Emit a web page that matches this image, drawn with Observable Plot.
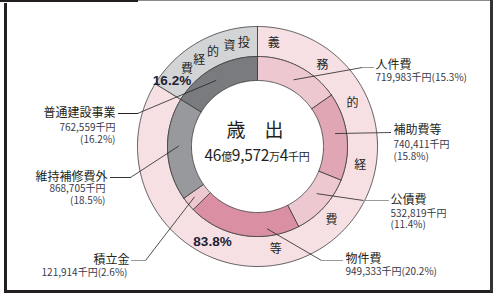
<!DOCTYPE html>
<html><head><meta charset="utf-8">
<script src="https://cdn.jsdelivr.net/npm/d3@7"></script>
<script src="https://cdn.jsdelivr.net/npm/@observablehq/plot@0.6"></script>
<style>
body{margin:0;background:#fff;}
#wrap{position:relative;width:500px;height:298px;overflow:hidden;background:#fff;}
#wrap svg{position:absolute;left:0;top:0;}
.fr{position:absolute;pointer-events:none;background:#231f20;}
</style></head><body><div id="wrap">
<div class="fr" style="left:0;top:0;width:138px;height:2px"></div>
<div class="fr" style="left:138px;top:0;width:355px;height:1px;background:#8a8a8a"></div>
<div class="fr" style="left:4px;top:3px;width:2.5px;height:289px"></div>
<div class="fr" style="left:4px;top:290px;width:489px;height:2.5px"></div>
<div class="fr" style="left:490px;top:0;width:3px;height:292px;background:#333"></div>
</div>
<script>
// ---------------- data ----------------
const items = ["人件費", "補助費等", "公債費", "物件費", "積立金", "維持補修費外", "普通建設事業"];
const amounts = [719983, 740411, 532819, 949333, 121914, 868705, 762559]; // 千円
const shares = [15.3, 15.8, 11.4, 20.2, 2.6, 18.5, 16.2];                  // %
const itemGroups = ["義務的経費等", "義務的経費等", "義務的経費等", "義務的経費等", "義務的経費等", "義務的経費等", "投資的経費"];
const groups = ["義務的経費等", "投資的経費"];
const groupShares = [83.8, 16.2];
const centerTitle = "歳　出";
const totalParts = ["46", "億", "9,572", "万", "4", "千円"];

// ---------------- styles / layout ----------------
const itemColors = ["#edc8d0", "#e0a6b3", "#edc8d0", "#da8fa3", "#edc8d0", "#98999c", "#7a7b7f"];
const groupColors = ["#f6e0e4", "#d3d4d6"];
const CX = 257, CY = 146, W = 500, H = 298;
const R0 = 66, R1 = 90, R2 = 120, RT = 104.5;
const FONT = "'Noto Sans CJK JP', 'Noto Sans', sans-serif";
// leader layout (pixel positions of elbows, ends and labels)
const leaderLayout = [
  {anchorOff: 1,   r: 76, elbow: [362, 67],  end: [373, 67],  flat: "#9a9a9a", name: [375, 64.5],  val: [375, 72.5],  split: false, side: "start"},
  {anchorOff: -3,  r: 79, elbow: [390, 132], end: [390, 132], flat: "#222",    name: [393, 130],   val: [393, 139],   split: true,  side: "start"},
  {anchorOff: -4,  r: 76, elbow: [363, 200], end: [388, 200], flat: "#9a9a9a", name: [390, 199.5], val: [390, 207.8], split: true,  side: "start"},
  {anchorOff: -16, r: 83, elbow: [321, 260], end: [342, 260], flat: "#9a9a9a", name: [345, 258.8], val: [345, 266],   split: false, side: "start"},
  {anchorOff: 1,   r: 81, elbow: [145, 260], end: [131, 260], flat: "#9a9a9a", name: [129, 259.5], val: [127, 266.8], split: false, side: "end"},
  {anchorOff: 2,   r: 79, elbow: [130, 177], end: [110, 177], flat: "#333",    name: [107, 177],   val: [105, 183.6], split: true,  side: "end"},
  {anchorOff: -3,  r: 78, elbow: [137, 113], end: [118, 113], flat: "#222",    name: [115, 112.5], val: [115, 122.6], split: true,  side: "end"}
];
const ringCharAngles = {
  "義務的経費等": [9, 38.5, 65.5, 100.5, 135, 170],
  "投資的経費": [-7.6, -15.6, -25.2, -33.8, -42.4]
};
const pctLabelPos = [[-45, 95.5], [-85.5, -66]];

// ---------------- geometry from data ----------------
const total = d3.sum(amounts);
const rad = a => a * Math.PI / 180;
const pt = (a, r) => ({x: r * Math.sin(rad(a)), y: -r * Math.cos(rad(a))});
function arcPoly(a0, a1, r0, r1, id, color) {
  const n = Math.max(2, Math.ceil((a1 - a0) / 1));
  const pts = [];
  for (let i = 0; i <= n; i++) pts.push(pt(a0 + (a1 - a0) * i / n, r1));
  for (let i = n; i >= 0; i--) pts.push(pt(a0 + (a1 - a0) * i / n, r0));
  pts.push(pts[0]);
  return pts.map(p => ({...p, id, color}));
}
let acc = 0;
const itemArcs = items.map((name, i) => {
  const a0 = acc / total * 360; acc += amounts[i];
  const a1 = acc / total * 360;
  return {name, a0, a1, mid: (a0 + a1) / 2};
});
const slicePts = itemArcs.flatMap((s, i) => arcPoly(s.a0, s.a1, R0, R1, "i" + i, itemColors[i]));
let gacc = 0;
const groupArcs = groups.map((g, gi) => {
  const sum = d3.sum(amounts.filter((_, i) => itemGroups[i] === g));
  const a0 = gacc / total * 360; gacc += sum;
  return {g, a0, a1: gacc / total * 360};
});
const groupPts = groupArcs.flatMap((s, i) => arcPoly(s.a0, s.a1, R1, R2, "g" + i, groupColors[i]));

const fmt = d3.format(",");
const labels = items.map((name, i) => {
  const L = leaderLayout[i];
  const a = pt(itemArcs[i].mid + L.anchorOff, L.r);
  return {
    name, side: L.side, flat: L.flat,
    nx: L.name[0] - CX, ny: L.name[1] - CY,
    vx: L.val[0] - CX, vy: L.val[1] - CY,
    value: `${fmt(amounts[i])}千円${L.split ? "\n" : ""}(${shares[i].toFixed(1)}%)`,
    ax: a.x, ay: a.y,
    ex: L.elbow[0] - CX, ey: L.elbow[1] - CY,
    fx: L.end[0] - CX, fy: L.end[1] - CY, id: "l" + i
  };
});
const slantPts = labels.flatMap(l => [{x: l.ax, y: l.ay, id: l.id}, {x: l.ex, y: l.ey, id: l.id}]);
const flatPts = labels.flatMap(l => [{x: l.ex, y: l.ey, id: l.id, c: l.flat}, {x: l.fx, y: l.fy, id: l.id, c: l.flat}]);

const ringChars = groups.flatMap(g => [...g].map((ch, k) => ({ch, ...pt(ringCharAngles[g][k], RT)})));
const pctLabels = groups.map((g, i) => ({t: groupShares[i].toFixed(1) + "%", x: pctLabelPos[i][0], y: pctLabelPos[i][1]}));

const chart = Plot.plot({
  width: W, height: H, margin: 0,
  x: {domain: [-CX, W - CX], axis: null},
  y: {domain: [H - CY, -CY], axis: null},
  color: {type: "identity"},
  style: {background: "transparent", overflow: "visible"},
  marks: [
    Plot.line(groupPts, {x: "x", y: "y", z: "id", fill: "color", stroke: "#3a3a3a", strokeWidth: 0.8}),
    Plot.line(slicePts, {x: "x", y: "y", z: "id", fill: "color", stroke: "#3a3a3a", strokeWidth: 0.8}),
    Plot.text(ringChars, {x: "x", y: "y", text: "ch", fontSize: 12, fill: "#231f20", fontFamily: FONT}),
    Plot.text(pctLabels, {x: "x", y: "y", text: "t", fontSize: 13.5, fontWeight: "bold", fill: "#1f2233", fontFamily: "'Liberation Sans', sans-serif"}),
    Plot.line(slantPts, {x: "x", y: "y", z: "id", stroke: "#222", strokeWidth: 0.8}),
    Plot.line(flatPts, {x: "x", y: "y", z: "id", stroke: "c", strokeWidth: 1.2}),
    Plot.text(labels.filter(d => d.side === "start"), {x: "nx", y: "ny", text: "name", textAnchor: "start", fontSize: 12, fill: "#231f20", fontFamily: FONT}),
    Plot.text(labels.filter(d => d.side === "end"), {x: "nx", y: "ny", text: "name", textAnchor: "end", fontSize: 12, fill: "#231f20", fontFamily: FONT}),
    Plot.text(labels.filter(d => d.side === "start"), {x: "vx", y: "vy", text: "value", textAnchor: "start", lineAnchor: "top", lineHeight: 1.17, fontSize: 10, fill: "#3a3a48", fontFamily: FONT}),
    Plot.text(labels.filter(d => d.side === "end"), {x: "vx", y: "vy", text: "value", textAnchor: "end", lineAnchor: "top", lineHeight: 1.17, fontSize: 10, fill: "#3a3a48", fontFamily: FONT}),
    (index, scales) => {
      const g = d3.create("svg:g").attr("font-family", FONT).attr("fill", "#231f20");
      g.append("text").attr("x", scales.x(-2)).attr("y", scales.y(-16)).attr("dy", "0.35em")
        .attr("text-anchor", "middle").attr("font-size", 19).text(centerTitle);
      const t = g.append("text").attr("x", scales.x(0)).attr("y", scales.y(11)).attr("dy", "0.35em")
        .attr("text-anchor", "middle").attr("letter-spacing", "-0.3");
      totalParts.forEach((p, i) => t.append("tspan").attr("font-size", i % 2 === 0 ? 15.5 : 11).text(p));
      return g.node();
    }
  ]
});
document.getElementById("wrap").prepend(chart);
</script></body></html>
